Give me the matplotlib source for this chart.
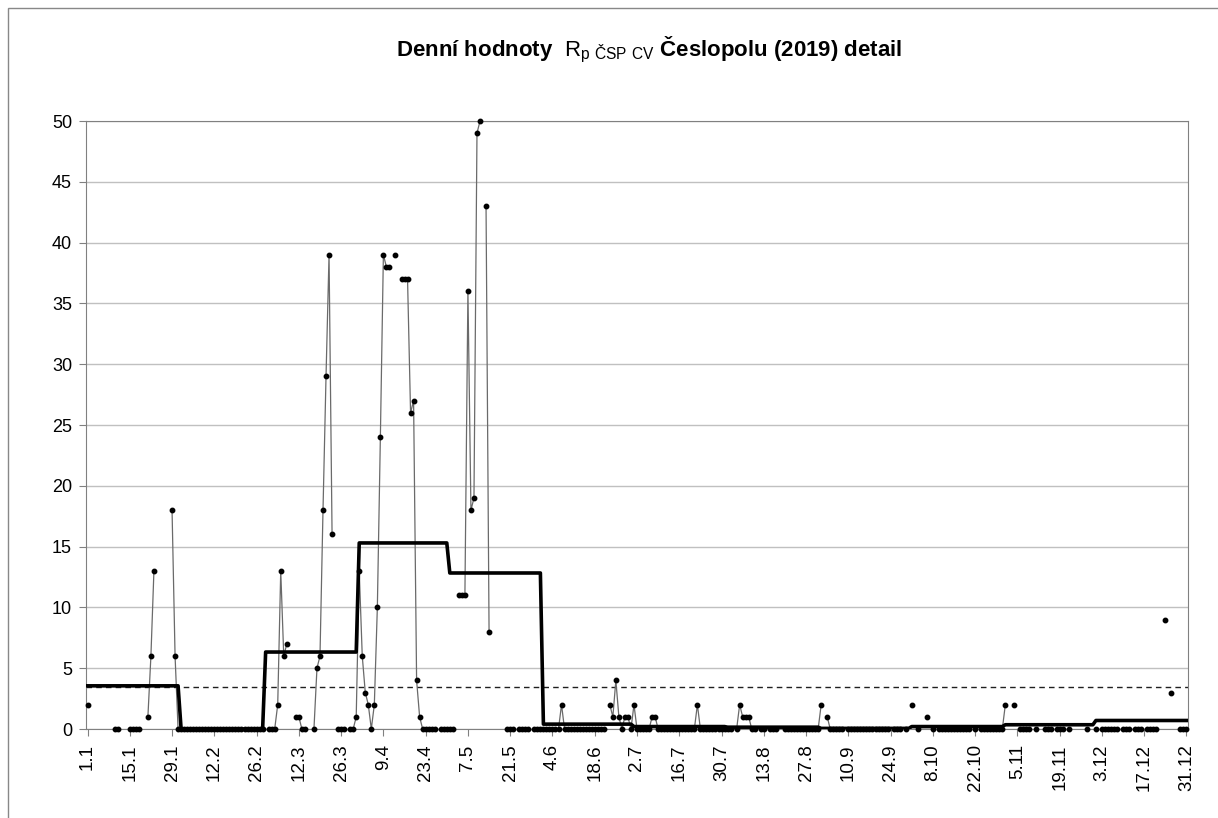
import matplotlib
matplotlib.use("Agg")
import matplotlib.pyplot as plt
from matplotlib.patches import Rectangle
import numpy as np

plt.rcParams['font.family'] = ['Liberation Sans', 'DejaVu Sans']
plt.rcParams['mathtext.fontset'] = 'custom'
plt.rcParams['mathtext.rm'] = 'Liberation Sans'
plt.rcParams['mathtext.bf'] = 'Liberation Sans:bold'

_ = np.nan

# denni hodnoty po mesicich (_ = chybi)
jan = [2, _, _, _, _, _, _, _, _, 0, 0, _, _, _, 0, 0, 0, 0, _, _, 1, 6, 13, _, _, _, _, _, 18, 6, 0]
feb = [0] * 28
mar = [_, 0, 0, 0, 2, 13, 6, 7, _, _, 1, 1, 0, 0, _, _, 0, 5, 6, 18, 29, 39, 16, _, 0, 0, 0, _, 0, 0, 1]
apr = [13, 6, 3, 2, 0, 2, 10, 24, 39, 38, 38, _, 39, _, 37, 37, 37, 26, 27, 4, 1, 0, 0, 0, 0, 0, _, 0, 0, 0]
may = [0, 0, _, 11, 11, 11, 36, 18, 19, 49, 50, _, 43, 8, _, _, _, _, _, 0, 0, 0, _, 0, 0, 0, 0, _, 0, 0, 0]
jun = [0, 0, 0, 0, 0, 0, 2, 0, 0, 0, 0, 0, 0, 0, 0, 0, 0, 0, 0, 0, 0, _, 2, 1, 4, 1, 0, 1, 1, 0]
jul = [2, 0, 0, 0, 0, 0, 1, 1, 0, 0, 0, 0, 0, 0, 0, 0, 0, 0, 0, 0, 0, 2, 0, 0, 0, 0, 0, 0, 0, 0, 0]
aug = [0, 0, _, 0, 2, 1, 1, 1, 0, 0, _, 0, 0, _, 0, 0, 0, _, _, 0, 0, 0, 0, 0, 0, 0, 0, 0, 0, 0, 0]
sep = [2, _, 1, 0, 0, 0, 0, 0, _, 0, 0, 0, 0, 0, 0, 0, 0, 0, 0, 0, 0, 0, 0, _, 0, 0, 0, _, 0, _]
oct_ = [2, _, 0, _, _, 1, _, 0, _, 0, 0, 0, 0, 0, 0, 0, 0, 0, 0, 0, _, 0, _, 0, 0, 0, 0, 0, 0, 0, 0]
nov = [2, _, _, 2, _, 0, 0, 0, 0, _, 0, _, _, 0, 0, 0, _, 0, 0, 0, _, 0, _, _, _, _, _, 0, _, _]
dec = [0, _, 0, 0, 0, 0, 0, 0, _, 0, 0, 0, _, 0, 0, 0, _, 0, 0, 0, 0, _, _, 9, _, 3, _, _, 0, 0, 0]

# mesicni prumery (tlusta cara) a rocni prumer (carkovane)
month_len = [31, 28, 31, 30, 31, 30, 31, 31, 30, 31, 30, 31]
month_mean = [3.55, 0.0, 6.33, 15.3, 12.83, 0.4, 0.2, 0.15, 0.05, 0.2, 0.35, 0.7]
year_mean = 3.47

tick_labels = ['1.1', '15.1', '29.1', '12.2', '26.2', '12.3', '26.3', '9.4', '23.4',
               '7.5', '21.5', '4.6', '18.6', '2.7', '16.7', '30.7', '13.8', '27.8',
               '10.9', '24.9', '8.10', '22.10', '5.11', '19.11', '3.12', '17.12', '31.12']

daily = np.array(jan + feb + mar + apr + may + jun + jul + aug + sep + oct_ + nov + dec, dtype=float)
days = np.arange(len(daily))
monthly = np.repeat(month_mean, month_len)

fig = plt.figure(figsize=(12.18, 8.18), dpi=100)
ax = fig.add_axes([86 / 1218, 1 - 729 / 818, 1102 / 1218, 608 / 818])

ax.set_xlim(-0.5, 364.5)
ax.set_ylim(0, 50)
ax.set_yticks(np.arange(0, 51, 5))
ax.yaxis.grid(True, color='#c0c0c0', lw=1)
ax.set_axisbelow(True)

ax.axhline(year_mean, color='#202020', lw=1, ls=(0, (4, 3)), zorder=2)
ax.plot(days, daily, color='#6a6a6a', lw=0.9, marker='o', ms=3.2,
        mfc='black', mec='black', clip_on=False, zorder=3)
ax.plot(days, monthly, color='black', lw=2.6, zorder=4)

ax.set_xticks(np.arange(0, 365, 14))
ax.set_xticklabels(tick_labels, rotation=90, fontsize=13.5)
ax.tick_params(axis='y', labelsize=13, length=5, color='#808080', pad=5)
ax.tick_params(axis='x', length=5, color='#808080', pad=6)
for s in ax.spines.values():
    s.set_color('#808080')

fig.text(0.533, 1 - 50 / 818,
         r'Denní hodnoty  $\mathrm{R}_{\mathrm{p\ ČSP\ CV}}$ Česlopolu (2019) detail',
         ha='center', va='center', fontsize=16, fontweight='bold')

fig.patches.append(Rectangle((8 / 1218, -0.1), 1.2, 1 - 8 / 818 + 0.1,
                             transform=fig.transFigure, fill=False,
                             edgecolor='#888888', lw=1))

fig.savefig('out.png', dpi=100)
